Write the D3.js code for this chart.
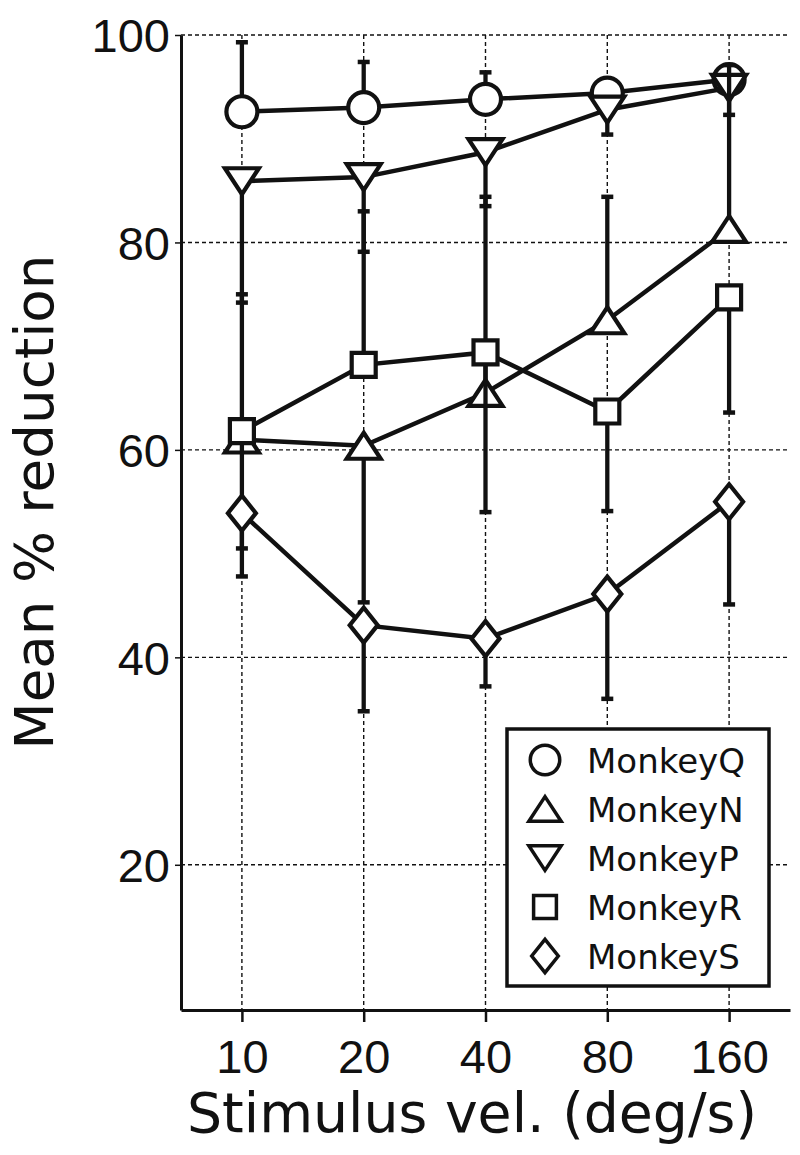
<!DOCTYPE html>
<html>
<head>
<meta charset="utf-8">
<script src="https://cdn.jsdelivr.net/npm/d3@7"></script>
<style>
  body { margin: 0; background: #fff; }
  svg { display: block; font-family: "DejaVu Sans", sans-serif; }
</style>
</head>
<body>
<div id="chart"></div>
<script>
// stimulus velocities (deg/s), shown on a log2 axis
var speeds = [10, 20, 40, 80, 160];
var yTicks = [20, 40, 60, 80, 100];

// series names, legend order
var monkeys = ["MonkeyQ", "MonkeyN", "MonkeyP", "MonkeyR", "MonkeyS"];

// mean % reduction per velocity
var meanQ = [92.6, 93.0, 93.8, 94.4, 95.7];
var meanN = [61.0, 60.4, 65.5, 72.5, 81.3];
var meanP = [85.9, 86.3, 88.7, 92.8, 94.9];
var meanR = [61.8, 68.2, 69.4, 63.7, 74.7];
var meanS = [53.9, 43.1, 41.8, 46.1, 55.0];

// where each one-sided error bar ends (cap value)
var barQ = [99.3, 97.4, 96.4, 94.4, 95.7];
var barN = [75.0, 45.3, 84.4, 84.4, 97.1];
var barP = [74.2, 79.1, 83.5, 90.4, 92.3];
var barR = [50.5, 83.0, 54.0, 54.1, 63.6];
var barS = [47.8, 34.8, 37.2, 36.0, 45.1];

var markerType = {MonkeyQ: "circle", MonkeyN: "up", MonkeyP: "down", MonkeyR: "square", MonkeyS: "diamond"};

var series = [
  {name: "MonkeyQ", mean: meanQ, bar: barQ},
  {name: "MonkeyP", mean: meanP, bar: barP},
  {name: "MonkeyN", mean: meanN, bar: barN},
  {name: "MonkeyR", mean: meanR, bar: barR},
  {name: "MonkeyS", mean: meanS, bar: barS}
];

//plot area edges
var svgW = 800, svgH = 1155;
var plotL = 181, plotR = 790, plotT = 35, plotB = 1010;
var ink = "#111";

var svg = d3.select("#chart").append("svg")
  .attr("width", svgW).attr("height", svgH);

var x = d3.scaleLog().base(2)
  .domain([10 / Math.SQRT2, 160 * Math.SQRT2])
  .range([plotL, plotR]);
var y = d3.scaleLinear().domain([6, 100]).range([plotB, plotT]);

//marker outline paths centred on 0,0
function shape(type, s) {
  if (type === "circle") {
    var r = 15.5 * s;
    return "M" + (-r) + ",0A" + r + "," + r + " 0 1,0 " + r + ",0A" + r + "," + r + " 0 1,0 " + (-r) + ",0Z";
  }
  if (type === "up") return "M0," + (-13 * s) + "L" + 17 * s + "," + 13 * s + "L" + (-17 * s) + "," + 13 * s + "Z";
  if (type === "down") return "M0," + 13 * s + "L" + 17 * s + "," + (-13 * s) + "L" + (-17 * s) + "," + (-13 * s) + "Z";
  if (type === "square") return "M" + (-12 * s) + "," + (-12 * s) + "H" + 12 * s + "V" + 12 * s + "H" + (-12 * s) + "Z";
  return "M0," + (-17.5 * s) + "L" + 14 * s + ",0L0," + 17.5 * s + "L" + (-14 * s) + ",0Z";
}

//dashed grid
var grid = svg.append("g").attr("stroke", ink).attr("stroke-width", 1.4).attr("stroke-dasharray", "4,3");
grid.selectAll(".gy").data(yTicks).enter().append("line")
  .attr("x1", plotL).attr("x2", plotR)
  .attr("y1", d => y(d)).attr("y2", d => y(d));
grid.selectAll(".gx").data(speeds).enter().append("line")
  .attr("x1", d => x(d)).attr("x2", d => x(d))
  .attr("y1", plotT).attr("y2", plotB);

//axes
var xAxis = d3.axisBottom(x).tickValues(speeds).tickFormat(d3.format("d")).tickSize(12).tickSizeOuter(0);
var gx = svg.append("g").attr("transform", `translate(0,${plotB})`).call(xAxis);
gx.select(".domain").attr("stroke", ink).attr("stroke-width", 3);
gx.selectAll(".tick line").attr("stroke", ink).attr("stroke-width", 2.5);
gx.selectAll(".tick text").attr("font-size", 47).attr("fill", ink)
  .attr("y", 63).attr("dy", 0);

var yAxis = d3.axisLeft(y).tickValues(yTicks).tickSize(6).tickSizeOuter(0).tickPadding(5);
var gy = svg.append("g").attr("transform", `translate(${plotL},0)`).call(yAxis);
gy.select(".domain").attr("stroke", ink).attr("stroke-width", 3);
gy.selectAll(".tick line").attr("stroke", ink).attr("stroke-width", 1.5);
gy.selectAll(".tick text").attr("font-size", 47).attr("fill", ink).attr("dy", "0.36em");

//axis titles
svg.append("text")
  .attr("x", 472).attr("y", 1132)
  .attr("text-anchor", "middle").attr("font-size", 55).attr("fill", ink)
  .attr("textLength", 570).attr("lengthAdjust", "spacingAndGlyphs")
  .text("Stimulus vel. (deg/s)");
svg.append("text")
  .attr("transform", "translate(53,502) rotate(-90)")
  .attr("text-anchor", "middle").attr("font-size", 53).attr("fill", ink)
  .attr("textLength", 495).attr("lengthAdjust", "spacingAndGlyphs")
  .text("Mean % reduction");

//series: error bars, then line, then markers
var line = d3.line().x(d => x(d.v)).y(d => y(d.m));
series.forEach(function(s) {
  var pts = speeds.map((v, i) => ({v: v, m: s.mean[i], e: s.bar[i]}));
  var g = svg.append("g");
  g.selectAll(".bar").data(pts).enter().append("line")
    .attr("x1", d => x(d.v)).attr("x2", d => x(d.v))
    .attr("y1", d => y(d.m)).attr("y2", d => y(d.e))
    .attr("stroke", ink).attr("stroke-width", 4.3);
  g.selectAll(".cap").data(pts).enter().append("line")
    .attr("x1", d => x(d.v) - 6).attr("x2", d => x(d.v) + 6)
    .attr("y1", d => y(d.e)).attr("y2", d => y(d.e))
    .attr("stroke", ink).attr("stroke-width", 4.5);
  g.append("path").datum(pts).attr("d", line)
    .attr("fill", "none").attr("stroke", ink).attr("stroke-width", 4.5);
  g.selectAll(".mk").data(pts).enter().append("path")
    .attr("transform", d => `translate(${x(d.v)},${y(d.m)})`)
    .attr("d", shape(markerType[s.name], 1))
    .attr("fill", "#fff").attr("stroke", ink).attr("stroke-width", 4.2);
});

//legend
var lg = svg.append("g");
lg.append("rect").attr("x", 507).attr("y", 729).attr("width", 262).attr("height", 257)
  .attr("fill", "#fff").attr("stroke", ink).attr("stroke-width", 3.5);
var rows = lg.selectAll(".row").data(monkeys).enter().append("g")
  .attr("transform", (d, i) => `translate(545,${760 + i * 49})`);
rows.append("path").attr("d", d => shape(markerType[d], 0.95))
  .attr("fill", "#fff").attr("stroke", ink).attr("stroke-width", 3.5);
rows.append("text").attr("x", 42).attr("y", 13)
  .attr("font-size", 34).attr("fill", ink).text(d => d);
</script>
</body>
</html>
